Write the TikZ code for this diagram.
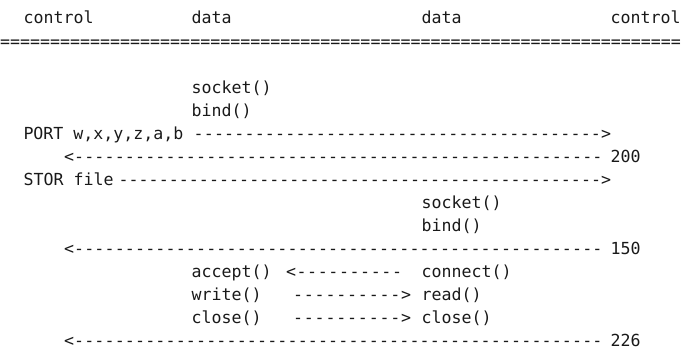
\documentclass[tikz,border=0pt]{standalone}
\usepackage{fontspec}
\newfontfamily\monofam{DejaVu Sans Mono}
\newcommand{\larr}[1]{\makebox[#1][l]{<\xleaders\hbox{-}\hfill}}
\newcommand{\rarr}[1]{\makebox[#1][l]{\xleaders\hbox{-}\hfill>}}
\newcommand{\eqline}[1]{\makebox[#1][l]{\xleaders\hbox{=}\hfill}}
\tikzset{
  txt/.style={inner sep=0pt, outer sep=0pt, anchor=base west, text=black!90,
    font=\monofam\fontsize{16.61pt}{20pt}\selectfont},
}
\begin{document}
\begin{tikzpicture}[x=1pt, y=-1pt]
\useasboundingbox (0,0) rectangle (681,352);
% header
\node[txt] (ctl1) at (23.7,24) {control};
\node[txt] (dat1) at (191.7,24) {data};
\node[txt] (dat2) at (421.7,24) {data};
\node[txt] (ctl2) at (610.7,24) {control};
\node[txt] (eq) at (0,47.1) {\eqline{681pt}};
% client data side
\node[txt] (sock1) at (191.7,93.2) {socket()};
\node[txt] (bind1) at (191.7,116.3) {bind()};
% PORT
\node[txt] (port) at (23.5,139.4) {PORT w,x,y,z,a,b};
\node[txt] (a1) at (193.5,139.4) {\rarr{417.7pt}};
\node[txt] (a2) at (64,162.4) {\larr{538.7pt}};
\node[txt] (r200) at (610.5,162.4) {200};
% STOR
\node[txt] (stor) at (23.7,185.5) {STOR file};
\node[txt] (a3) at (118.5,185.5) {\rarr{492.7pt}};
\node[txt] (sock2) at (421.7,208.6) {socket()};
\node[txt] (bind2) at (421.7,231.6) {bind()};
\node[txt] (a4) at (64,254.7) {\larr{538.7pt}};
\node[txt] (r150) at (610.5,254.7) {150};
% data connection
\node[txt] (acc) at (191.7,277.8) {accept()};
\node[txt] (a5) at (286,277.8) {\larr{116.7pt}};
\node[txt] (conn) at (421.7,277.8) {connect()};
\node[txt] (wr) at (191.7,300.8) {write()};
\node[txt] (a6) at (292.3,300.8) {\rarr{118.9pt}};
\node[txt] (rd) at (421.7,300.8) {read()};
\node[txt] (cl1) at (191.7,323.9) {close()};
\node[txt] (a7) at (292.3,323.9) {\rarr{118.9pt}};
\node[txt] (cl2) at (421.7,323.9) {close()};
\node[txt] (a8) at (64,347) {\larr{538.7pt}};
\node[txt] (r226) at (610.5,347) {226};
\end{tikzpicture}
\end{document}
